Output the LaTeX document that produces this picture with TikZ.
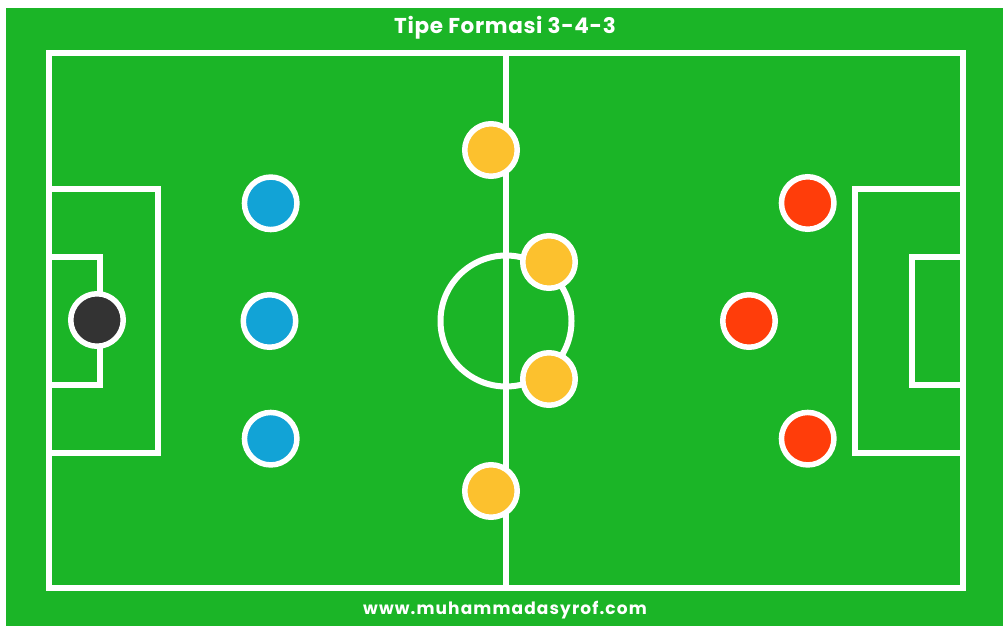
\documentclass[tikz,border=0pt]{standalone}
\usepackage{fontspec}
\setmainfont{Poppins}
\definecolor{pitch}{RGB}{27,181,39}
\definecolor{pyellow}{RGB}{252,193,46}
\definecolor{pblue}{RGB}{18,163,214}
\definecolor{pred}{RGB}{255,61,10}
\definecolor{pdark}{RGB}{51,51,51}
\begin{document}
\begin{tikzpicture}[x=1pt,y=-1pt,
  line/.style={draw=white,line width=6pt},
  player/.style={circle,draw=white,line width=5.5pt,minimum size=52.5pt,inner sep=0pt},
  titlefont/.style={text=white,font=\bfseries\fontsize{21.5}{26}\selectfont\addfontfeatures{LetterSpace=3}},
  footfont/.style={text=white,font=\bfseries\fontsize{17}{20}\selectfont\addfontfeatures{LetterSpace=6.5}}]
\useasboundingbox (0,0) rectangle (1003,626);
\fill[white] (0,0) rectangle (1003,626);
\fill[pitch] (6,8) rectangle (1003,626);
% pitch outline
\draw[line] (49,53.5) rectangle (963,587.5);
\draw[line] (506,53.5) -- (506,587.5);
\draw[line] (506,321) circle (65.5);
% left boxes
\draw[line] (49,189) -| (157.5,453) -- (49,453);
\draw[line] (49,257) -| (100,385) -- (49,385);
% right boxes
\draw[line] (963,189) -| (854.7,453) -- (963,453);
\draw[line] (963,257) -| (912,385) -- (963,385);
% players
\node[player,fill=pdark] (gk) at (97,320) {};
\node[player,fill=pblue] (d1) at (270.7,203.3) {};
\node[player,fill=pblue] (d2) at (269.5,321) {};
\node[player,fill=pblue] (d3) at (270.7,438.7) {};
\node[player,fill=pyellow] (m1) at (491,150) {};
\node[player,fill=pyellow] (m2) at (549,262) {};
\node[player,fill=pyellow] (m3) at (549,379) {};
\node[player,fill=pyellow] (m4) at (491,491) {};
\node[player,fill=pred] (f1) at (807.7,203) {};
\node[player,fill=pred] (f2) at (749,321) {};
\node[player,fill=pred] (f3) at (807.7,438.7) {};
% texts
\node[titlefont] (title) at (505,28) {Tipe Formasi 3-4-3};
\node[footfont] (foot) at (505,610) {www.muhammadasyrof.com};
\end{tikzpicture}
\end{document}
